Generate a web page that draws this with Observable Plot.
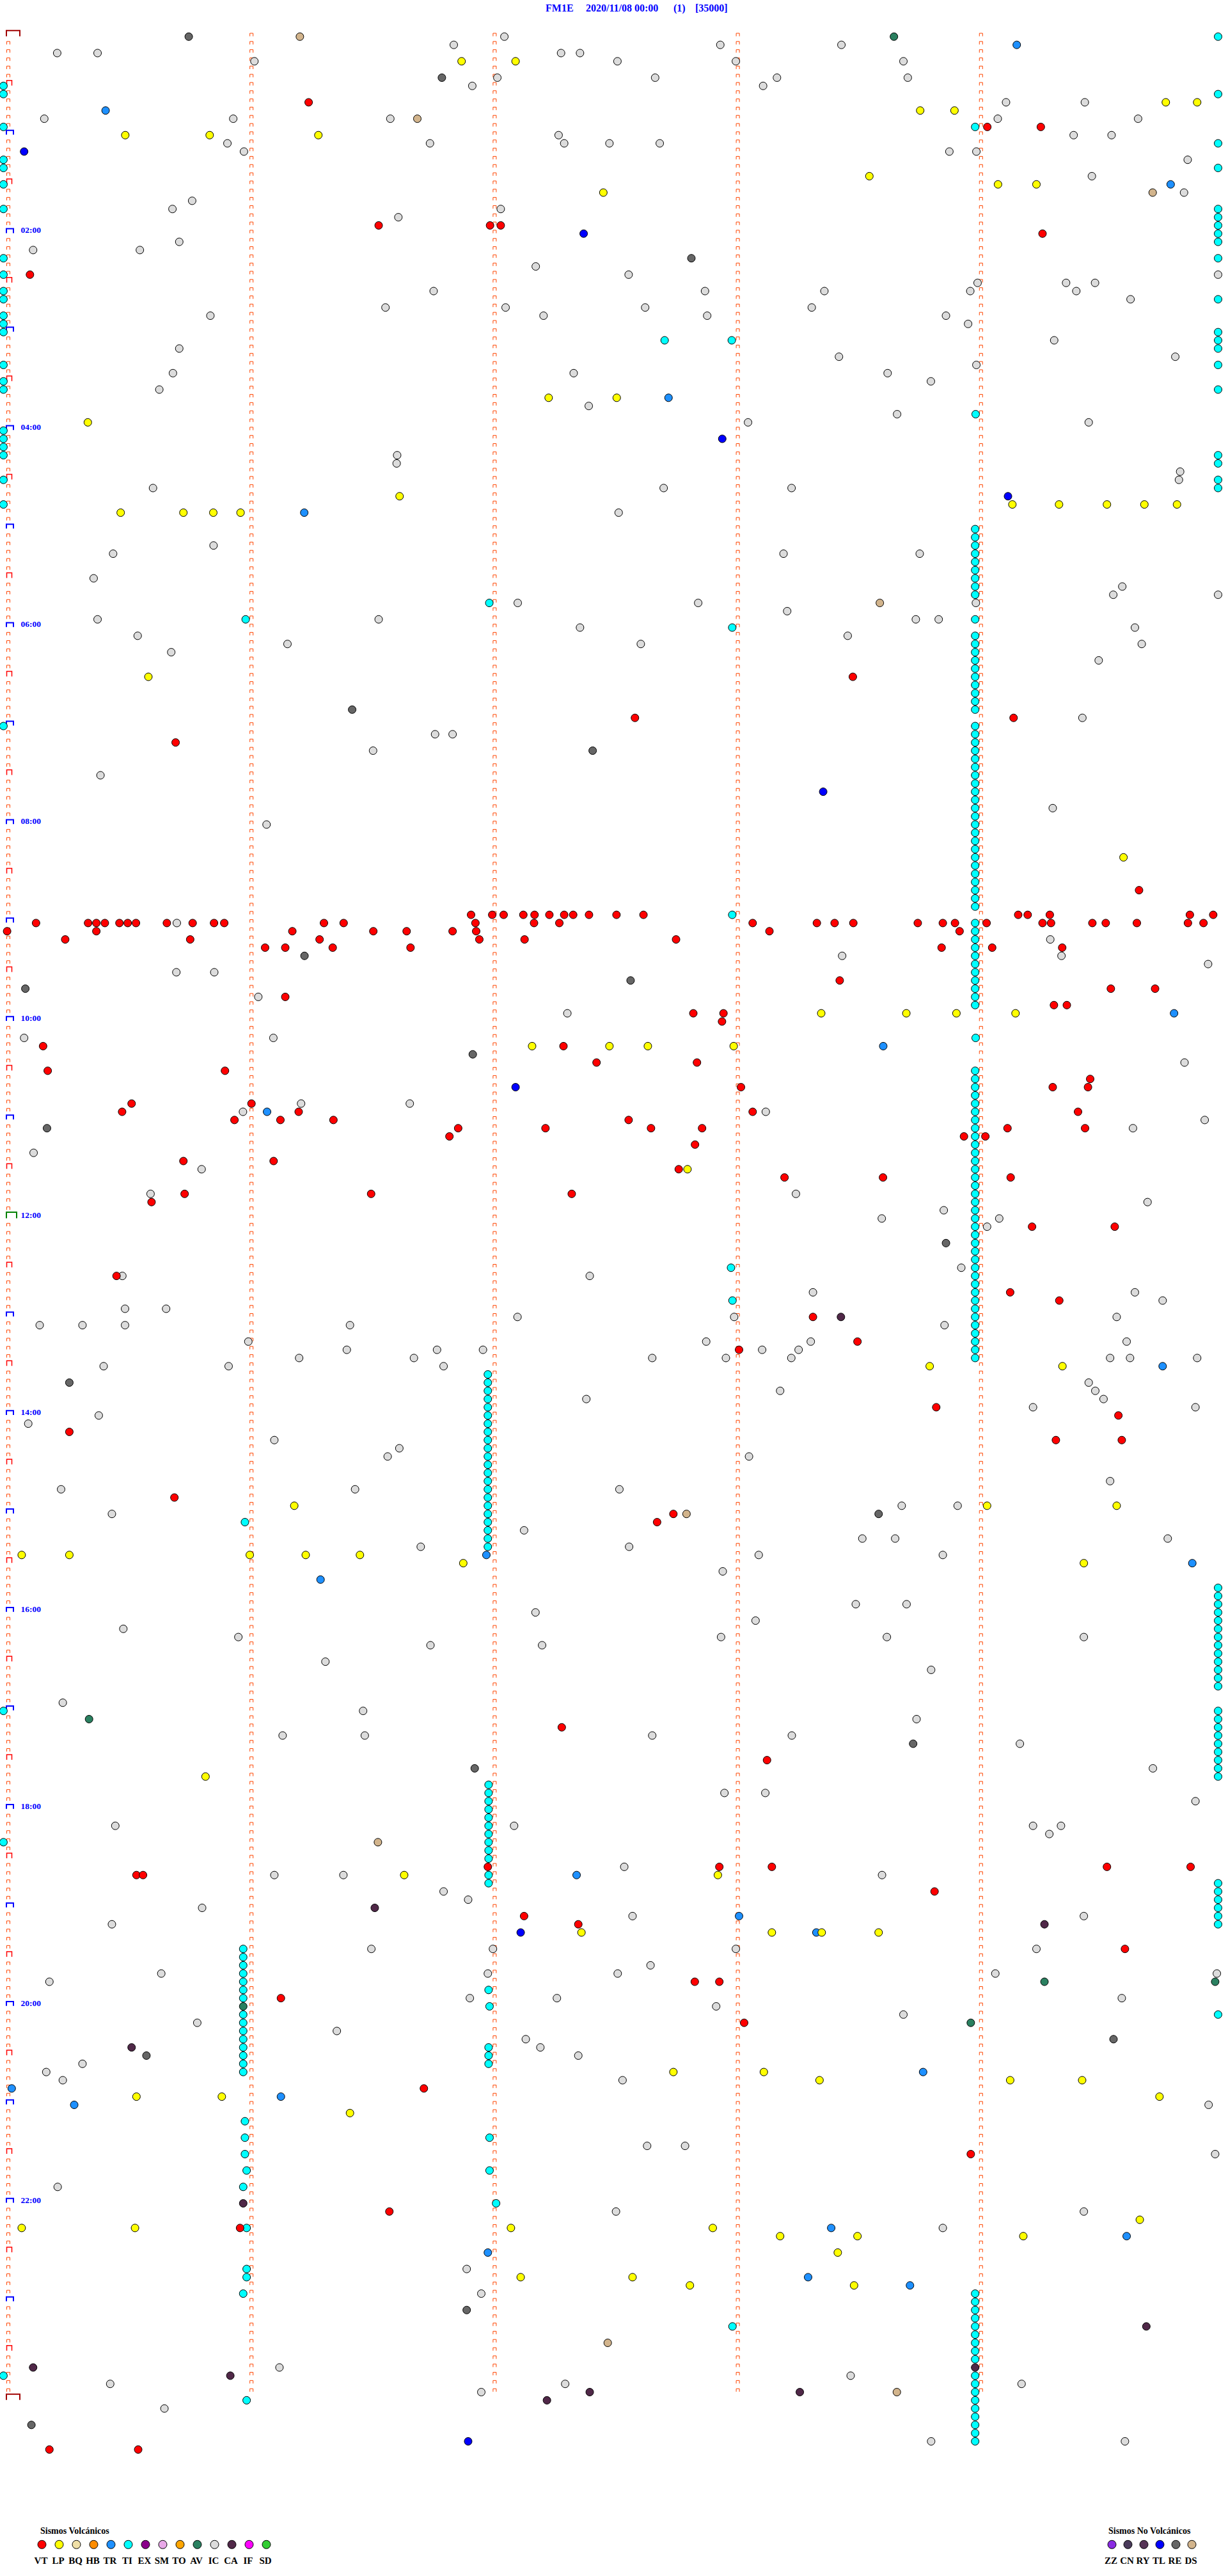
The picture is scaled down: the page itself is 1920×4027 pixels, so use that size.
<!DOCTYPE html>
<html><head><meta charset="utf-8">
<script src="https://cdn.jsdelivr.net/npm/d3@7"></script>
<script src="https://cdn.jsdelivr.net/npm/@observablehq/plot@0.6"></script>
<style>
body{margin:0;background:#fff;}
#page{position:relative;width:1920px;height:4027px;overflow:hidden;background:#fff;}
.t{position:absolute;font-family:"Liberation Serif","Times New Roman",serif;font-weight:bold;white-space:pre;}
.abs{position:absolute;}
</style></head><body><div id="page"></div>
<script>
// ---------- categories / labels ----------
const titleParts = ["FM1E", "2020/11/08 00:00", "(1)", "[35000]"];
const typesVolc = ["VT","LP","BQ","HB","TR","TI","EX","SM","TO","AV","IC","CA","IF","SD"];
const colorsVolc = ["#FF0000","#FFFF00","#F0E0A8","#FF8C00","#1E90FF","#00FFFF","#8B008B","#E8A8E8","#FFA500","#2A8060","#DCDCDC","#502848","#FF00FF","#32CD32"];
const typesNoVolc = ["ZZ","CN","RY","TL","RE","DS"];
const colorsNoVolc = ["#8A2BE2","#4A3A5A","#553355","#0000FF","#666666","#D2B48C"];
const legendVolcTitle = "Sismos Volcánicos";
const legendNoVolcTitle = "Sismos No Volcánicos";
const hourLabels = ["02:00","04:00","06:00","08:00","10:00","12:00","14:00","16:00","18:00","20:00","22:00"];
const rowsPerDay = 288;      // 5-minute lines
const minutesPerRow = 5;

// ---------- events: [row (5-min line), minute offset within line] ----------
const VT = [[8,1.235],[11,4.026],[11,4.246],[23,1.523],[23,1.981],[23,2.025],[24,4.253],[29,0.089],[78,3.473],[83,2.577],[83,4.134],[86,0.688],[104,4.65],
[107,1.903],[107,1.99],[107,2.037],[107,2.118],[107,2.164],[107,2.225],[107,2.286],[107,2.323],[107,2.388],[107,2.501],[107,2.612],[107,4.153],[107,4.192],[107,4.283],[107,4.859],[107,4.955],
[108,0.114],[108,0.328],[108,0.362],[108,0.397],[108,0.457],[108,0.491],[108,0.525],[108,0.652],[108,0.758],[108,0.846],[108,0.888],[108,1.298],[108,1.379],[108,1.921],[108,2.162],[108,2.266],[108,3.061],[108,3.325],[108,3.398],[108,3.475],[108,3.74],[108,3.843],[108,3.893],[108,4.023],[108,4.253],[108,4.288],[108,4.458],[108,4.513],[108,4.641],[108,4.851],[108,4.915],
[109,-0.005],[109,0.362],[109,1.168],[109,1.501],[109,1.638],[109,1.827],[109,1.924],[109,3.13],[109,3.912],
[110,0.234],[110,0.748],[110,1.28],[110,1.937],[110,2.123],[110,2.746],
[111,1.056],[111,1.139],[111,1.334],[111,1.654],[111,3.838],[111,4.046],[111,4.334],
[115,3.419],[116,4.534],[116,4.716],[117,1.139],[118,4.3],[118,4.353],[119,2.817],[119,2.941],[120,2.935],[123,0.143],[123,2.283],[125,2.419],[125,2.832],[126,0.162],[126,0.891],[127,4.449],[128,3.013],[128,4.295],[128,4.44],[130,0.507],[130,1.0],[131,0.468],[131,1.194],[131,3.061],[131,4.399],[132,0.93],[132,1.119],[132,1.337],[132,2.551],[133,1.85],[133,2.209],[133,2.643],[133,2.853],[133,4.109],[133,4.428],[134,1.814],[134,3.93],[134,4.018],[135,2.824],[137,0.72],[137,1.091],[138,2.757],[139,3.192],[139,3.597],[139,4.122],[141,0.725],[141,1.492],[141,2.317],[142,0.589],[145,4.21],[145,4.55],
[151,0.445],[153,4.12],[154,4.322],[156,3.309],[159,3.492],[160,3.005],[167,3.816],[168,4.565],[170,0.251],[171,4.308],[171,4.579],[178,0.683],[180,2.735],[181,2.668],[206,2.276],[210,3.12],
[223,1.972],[223,2.924],[223,3.14],[223,4.518],[223,4.862],[224,0.527],[224,0.554],[226,3.809],[229,2.121],[230,2.344],[233,4.592],[237,2.823],[237,2.924],[239,1.121],[242,3.026],[250,1.709],[258,3.958],[265,1.567],[267,0.953],[294,0.169],[294,0.534]];
const LP = [[3,1.864],[3,2.086],[8,4.76],[8,4.889],[9,3.75],[9,3.891],[12,0.481],[12,0.828],[12,1.275],[17,3.541],[18,4.07],[18,4.228],[19,2.447],[44,2.222],[44,2.502],[47,0.327],[56,1.609],[57,4.129],[57,4.321],[57,4.518],[57,4.672],[57,4.806],[58,0.462],[58,0.72],[58,0.843],[58,0.955],[78,0.576],[100,4.586],[119,3.343],[119,3.693],[119,3.899],[119,4.142],[123,2.154],[123,2.472],[123,2.63],[123,2.983],[138,2.793],
[162,3.789],[162,4.335],[179,1.176],[179,4.025],[179,4.558],[185,0.055],[185,0.251],[185,0.993],[185,1.223],[185,1.446],[186,1.871],[186,4.423],[212,0.811],[224,1.628],[224,2.918],[231,2.357],[231,3.14],[231,3.345],[231,3.579],
[248,2.735],[248,3.107],[249,3.336],[249,4.12],[249,4.416],[251,0.527],[251,0.878],[251,4.734],[253,1.405],[266,4.653],[267,0.055],[267,0.521],[267,2.067],[267,2.897],[268,3.174],[268,3.492],[268,4.174],[270,3.411],[273,2.107],[273,2.567],[274,2.803],[274,3.478]];
const TR = [[1,4.147],[9,0.4],[18,4.78],[44,2.715],[58,1.217],[119,4.794],[123,3.598],[131,1.064],
[162,4.747],[185,1.966],[186,4.869],[188,1.284],[224,2.337],[229,3.005],[231,3.323],[248,3.762],[250,0.014],[251,1.121],[252,0.271],[267,3.384],[268,4.599],[270,1.972],[273,3.289],[274,3.708]];
const TI = [[6,-0.02],[7,-0.02],[11,-0.02],[15,-0.02],[16,-0.02],[18,-0.02],[21,-0.02],[27,-0.02],[29,-0.02],[31,-0.02],[32,-0.02],[34,-0.02],[35,-0.02],[36,-0.02],[40,-0.02],[42,-0.02],[43,-0.02],[48,-0.02],[49,-0.02],[50,-0.02],[51,-0.02],[54,-0.02],[57,-0.02],[84,-0.02],[204,-0.02],[220,-0.02],[285,-0.02],
[0,4.975],[7,4.975],[13,4.975],[16,4.975],[21,4.975],[22,4.975],[23,4.975],[24,4.975],[25,4.975],[27,4.975],[32,4.975],[36,4.975],[37,4.975],[38,4.975],[40,4.975],[43,4.975],[51,4.975],[52,4.975],[54,4.975],[55,4.975],
[189,4.975],[190,4.975],[191,4.975],[192,4.975],[193,4.975],[194,4.975],[195,4.975],[196,4.975],[197,4.975],[198,4.975],[199,4.975],[200,4.975],[201,4.975],
[204,4.975],[205,4.975],[206,4.975],[207,4.975],[208,4.975],[209,4.975],[210,4.975],[211,4.975],[212,4.975],
[225,4.975],[226,4.975],[227,4.975],[228,4.975],[229,4.975],[230,4.975],[241,4.975],
[11,3.976],[37,2.699],[37,2.975],[46,3.978],[69,1.978],[71,0.976],[72,2.977],[107,2.977],[150,2.972],[154,2.978],[181,0.973],[279,2.978],
[60,3.976],[61,3.976],[62,3.976],[63,3.976],[64,3.976],[65,3.976],[66,3.976],[67,3.976],[68,3.976],[71,3.976],[73,3.976],[74,3.976],[75,3.976],[76,3.976],[77,3.976],[78,3.976],[79,3.976],[80,3.976],[81,3.976],[82,3.976],
[84,3.976],[85,3.976],[86,3.976],[87,3.976],[88,3.976],[89,3.976],[90,3.976],[91,3.976],[92,3.976],[93,3.976],[94,3.976],[95,3.976],[96,3.976],[97,3.976],[98,3.976],[99,3.976],[100,3.976],[101,3.976],[102,3.976],[103,3.976],[104,3.976],[105,3.976],[106,3.976],
[108,3.976],[109,3.976],[110,3.976],[111,3.976],[112,3.976],[113,3.976],[114,3.976],[115,3.976],[116,3.976],[117,3.976],[118,3.976],[122,3.978],
[126,3.976],[127,3.976],[128,3.976],[129,3.976],[130,3.976],[131,3.976],[132,3.976],[133,3.976],[134,3.976],[135,3.976],[136,3.976],[137,3.976],[138,3.976],[139,3.976],[140,3.976],[141,3.976],[142,3.976],[143,3.976],[144,3.976],[145,3.976],[146,3.976],[147,3.976],[148,3.976],[149,3.976],
[150,3.976],[151,3.976],[152,3.976],[153,3.976],[154,3.976],[155,3.976],[156,3.976],[157,3.976],[158,3.976],[159,3.976],[160,3.976],[161,3.976],
[163,1.972],[164,1.972],[165,1.972],[166,1.972],[167,1.972],[168,1.972],[169,1.972],[170,1.972],[171,1.972],[172,1.972],[173,1.972],[174,1.972],[175,1.972],[176,1.972],[177,1.972],[178,1.972],[179,1.972],[180,1.972],[181,1.972],[182,1.972],[183,1.972],[184,1.972],
[213,1.975],[214,1.975],[215,1.975],[216,1.975],[217,1.975],[218,1.975],[219,1.975],[220,1.975],[221,1.975],[222,1.975],[224,1.975],[225,1.975],
[238,1.975],[240,1.979],[245,1.975],[246,1.975],[247,1.975],[256,1.979],[260,1.979],[264,2.006],
[233,0.966],[234,0.966],[235,0.966],[236,0.966],[237,0.966],[238,0.966],[239,0.966],[241,0.966],[242,0.966],[243,0.966],[244,0.966],[245,0.966],[246,0.966],[247,0.966],[248,0.966],
[254,0.973],[256,0.973],[258,0.973],[260,0.98],[262,0.966],[267,0.98],[272,0.98],[273,0.98],[275,0.966],[288,0.98],
[275,3.976],[276,3.976],[277,3.976],[278,3.976],[279,3.976],[280,3.976],[281,3.976],[282,3.976],[283,3.976],[285,3.976],[286,3.976],[287,3.976],[288,3.976],[289,3.976],[290,3.976],[291,3.976],[292,3.976],[293,3.976]];
const IC = [[0,2.04],[1,1.832],[1,2.928],[1,3.426],[2,0.201],[2,0.367],[2,2.273],[2,2.351],[3,1.012],[3,2.505],[3,2.992],[3,3.681],[5,2.011],[5,2.66],[5,3.161],[5,3.699],[6,1.908],[6,3.104],[8,4.103],[8,4.427],[10,0.148],[10,0.925],[10,1.571],[10,4.069],[10,4.646],[12,2.263],[12,4.381],[12,4.537],[13,0.901],[13,1.734],[13,2.286],[13,2.472],[13,2.679],[14,0.969],[14,3.87],[14,3.981],[15,4.85],[17,4.456],[19,4.835],[20,0.756],[21,0.675],[21,2.025],[22,1.604],[25,0.703],[26,0.102],[26,0.541],[28,2.169],[29,2.551],[29,4.975],[30,3.986],[30,4.35],[30,4.469],[31,1.749],[31,2.865],[31,3.356],[31,3.956],[31,4.392],[32,4.615],[33,1.551],[33,2.045],[33,2.619],[33,3.304],[34,0.831],[34,2.201],[34,2.874],[34,3.856],[35,3.947],[37,4.301],[38,0.703],[39,3.416],[39,4.799],[40,3.981],[41,0.677],[41,2.325],[41,3.616],[42,3.794],[43,0.621],[45,2.387],[46,3.655],[47,3.042],[47,4.443],[51,1.599],[52,1.597],[53,4.819],[54,4.814],[55,0.595],[55,2.695],[55,3.221],[58,2.51],[62,0.844],[63,0.431],[63,3.188],[63,3.748],[66,0.351],[67,4.581],[68,4.544],[68,4.975],[69,2.095],[69,2.837],[69,3.979],[70,3.203],[71,0.367],[71,1.523],[71,3.732],[71,3.826],[72,2.351],[72,4.633],[73,0.532],[73,3.452],[74,1.148],[74,2.601],[74,4.661],[75,0.67],[76,4.484],[83,4.417],[85,1.755],[85,1.827],[87,1.5],[90,0.379],[94,4.295],[96,1.062],[108,0.693],[110,4.285],[112,3.429],[112,4.331],[113,4.934],[114,0.691],[114,0.847],[117,1.028],[119,2.299],[122,0.065],[122,1.09],[125,4.837],[130,1.204],[130,1.651],[131,0.965],[131,3.115],[132,4.92],[133,4.625],[136,0.104],[138,0.795],[141,0.585],[141,3.239],[142,4.685],[143,3.847],[144,3.592],[144,4.075],[145,4.025],
[150,3.919],[151,0.469],[151,2.391],[153,3.309],[153,4.633],[154,4.747],[155,0.48],[155,0.649],[156,2.094],[156,2.985],[156,4.558],[157,0.129],[157,0.305],[157,0.48],[157,1.405],[157,3.85],[159,0.987],[159,2.87],[159,3.3],[159,4.599],[160,1.392],[160,1.763],[160,1.952],[160,3.1],[160,3.25],[161,1.196],[161,1.668],[161,2.648],[161,2.951],[161,3.22],[161,4.531],[161,4.613],[161,4.889],[162,0.392],[162,0.906],[162,1.79],
[164,4.443],[165,3.174],[165,4.47],[166,2.377],[166,4.504],[167,4.214],[167,4.882],[168,0.372],[169,0.082],[171,1.094],[172,1.608],[173,1.56],[173,3.046],[176,4.531],[177,0.217],[177,1.426],[177,2.513],[179,3.674],[179,3.904],[180,0.426],[182,2.121],[183,3.512],[183,3.647],[183,4.768],[184,1.696],[184,2.553],[185,3.086],[185,3.843],[187,2.938],
[191,3.485],[191,3.694],[192,2.168],[193,3.073],[194,0.473],[195,0.946],[195,2.931],[195,3.613],[195,4.423],[196,1.736],[196,2.195],[198,1.304],[199,3.795],[203,0.224],[204,1.459],[205,3.735],[207,1.128],[207,1.466],[207,2.648],[207,3.222],[208,4.16],[211,4.707],[214,2.945],[214,3.113],[215,4.882],
[218,0.44],[218,2.08],[218,4.214],[218,4.329],[219,4.281],[223,2.533],[224,1.094],[224,1.378],[224,3.593],[226,1.79],[227,1.891],[228,0.797],[229,2.567],[229,4.423],[230,0.426],[233,1.493],[233,1.993],[233,2.992],[233,4.228],[235,2.641],[236,0.629],[236,1.972],[236,2.506],[236,4.059],[236,4.97],[237,0.169],[239,1.898],[239,2.256],[239,4.579],[240,2.911],[241,3.681],[242,0.777],[243,1.351],[244,2.128],[245,2.188],[246,2.344],[247,0.305],[248,0.156],[249,0.224],[249,2.526],[252,4.936],
[257,2.627],[257,2.783],[258,4.963],[262,0.203],[265,2.499],[265,4.423],[267,3.843],[272,1.885],[275,1.945],[284,1.115],[285,3.464],[286,0.419],[286,2.29],[286,4.167],[287,1.945],[289,0.642],[293,3.795],[293,4.592]];
const AV = [[0,3.642],[205,0.332],[237,4.261],[237,4.963],[240,0.966],[242,3.958]];
const CA = [[156,3.424],[228,1.507],[230,4.261],[245,0.507],[264,0.966],[279,4.68],[284,0.102],[284,3.976],[285,0.913],[287,2.391],[287,3.255],[288,2.215]];
const TL = [[14,0.065],[24,2.366],[49,2.936],[56,4.111],[92,3.351],[128,2.086],[231,2.107],[293,1.891]];
const RE = [[0,0.742],[5,1.783],[27,2.809],[82,1.414],[87,2.403],[112,1.218],[115,2.559],[116,0.07],[124,1.91],[133,0.159],[147,3.856],[164,0.251],[180,3.579],[208,3.721],[211,1.918],[244,4.545],[246,0.568],[277,1.885],[291,0.095]];
const DS = [[0,1.199],[10,1.682],[19,4.706],[69,3.584],[180,2.789],[220,1.52],[281,2.465],[287,3.654]];

// ---------- build tables ----------
const colorOf = {};
typesVolc.forEach((t,i)=>colorOf[t]=colorsVolc[i]);
typesNoVolc.forEach((t,i)=>colorOf[t]=colorsNoVolc[i]);
const series = {TI, IC, RE, DS, AV, CA, TL, TR, LP, VT};
const events = [];
for (const [type, arr] of Object.entries(series)) for (const [row, min] of arr) events.push({type, row, min});

// row tick brackets ("⊓") : every 5-min line, at each minute column
function bracket(x0,x1,y0,y1){return {draw(c){c.moveTo(x0,y1);c.lineTo(x0,y0);c.lineTo(x1,y0);c.lineTo(x1,y1);}};}
const symSmall = bracket(-2.5,2.5,-5.3,-0.6);
const symHour  = bracket(-3.0,8.0,-7.6,-0.8);
const symHalf  = bracket(-2.5,5.5,-8.5,-0.5);
const symStart = bracket(-3.0,18.0,-9.5,-0.5);
const symNoon  = bracket(-3.0,13.0,-9.8,-0.4);
const small=[], hour=[], half=[], start=[], noon=[];
for (let r=0; r<=rowsPerDay; r++){
  for (let c=1; c<minutesPerRow && r<rowsPerDay; c++) small.push({row:r,min:c});
  const d={row:r,min:0};
  if (r===0 || r===rowsPerDay) start.push(d);
  else if (r===144) noon.push(d);
  else if (r%12===0) hour.push(d);
  else if (r%12===6) half.push(d);
  else small.push(d);
}
const hourRows = hourLabels.map((label,i)=>({label,row:(i+1)*24,min:0}));

const serif = "Liberation Serif, Times New Roman, serif";
const page = document.getElementById("page");

const chart = Plot.plot({
  width:1920, height:3880, margin:0,
  style:{background:"transparent", overflow:"visible"},
  x:{domain:[0,minutesPerRow], range:[12.5,1913.5], axis:null},
  y:{domain:[0,rowsPerDay], range:[56.8,56.8+rowsPerDay*12.83], axis:null},
  color:{type:"identity"},
  marks:[
    Plot.dot(small,{x:"min",y:"row",symbol:symSmall,fill:"none",stroke:"#FF4500",strokeWidth:1}),
    Plot.dot(half,{x:"min",y:"row",symbol:symHalf,fill:"none",stroke:"#FF0000",strokeWidth:1.5}),
    Plot.dot(hour,{x:"min",y:"row",symbol:symHour,fill:"none",stroke:"#0000FF",strokeWidth:2}),
    Plot.dot(start,{x:"min",y:"row",symbol:symStart,fill:"none",stroke:"#A00000",strokeWidth:2}),
    Plot.dot(noon,{x:"min",y:"row",symbol:symNoon,fill:"none",stroke:"#008000",strokeWidth:2}),
    Plot.text(hourRows,{x:"min",y:"row",text:"label",dx:19.5,dy:-5.2,textAnchor:"start",fill:"#0000FF",fontFamily:serif,fontWeight:"bold",fontSize:13.5}),
    Plot.dot(events,{x:"min",y:"row",r:6,fill:d=>colorOf[d.type],stroke:"black",strokeWidth:1})
  ]
});
chart.classList.add("abs"); chart.style.left="0px"; chart.style.top="0px";
page.appendChild(chart);

// title
const titleLeft=[853,916,1053,1087];
titleParts.forEach((t,i)=>{const s=document.createElement("div");s.className="t";s.textContent=t;
  s.style.cssText+=`left:${titleLeft[i]}px;top:5px;font-size:16px;line-height:16px;color:#0000FF;`;page.appendChild(s);});

// legends
function legend(types, colors, left, width, range){
  const data = types.map((t,i)=>({t,c:colors[i]}));
  const p = Plot.plot({width, height:147, margin:0, style:{background:"transparent",overflow:"visible"},
    x:{type:"point",domain:types,range,axis:null}, color:{type:"identity"},
    marks:[
      Plot.dot(data,{x:"t",frameAnchor:"top",dy:97.3,r:6.5,fill:"c",stroke:"black",strokeWidth:1}),
      Plot.text(data,{x:"t",frameAnchor:"top",dy:116.7,text:"t",dx:-1.5,fill:"black",fontFamily:serif,fontWeight:"bold",fontSize:15})
    ]});
  p.classList.add("abs"); p.style.left=left+"px"; p.style.top="3880px";
  page.appendChild(p);
}
legend(typesVolc, colorsVolc, 0, 480, [45.3,435.3]);
legend(typesNoVolc, colorsNoVolc, 1640, 280, [85.7,235.7]);
function heading(text, left){const s=document.createElement("div");s.className="t";s.textContent=text;
  s.style.cssText+=`left:${left}px;top:3950px;font-size:14px;line-height:14px;color:#000;`;page.appendChild(s);}
heading(legendVolcTitle, 63);
heading(legendNoVolcTitle, 1733);
</script></body></html>
